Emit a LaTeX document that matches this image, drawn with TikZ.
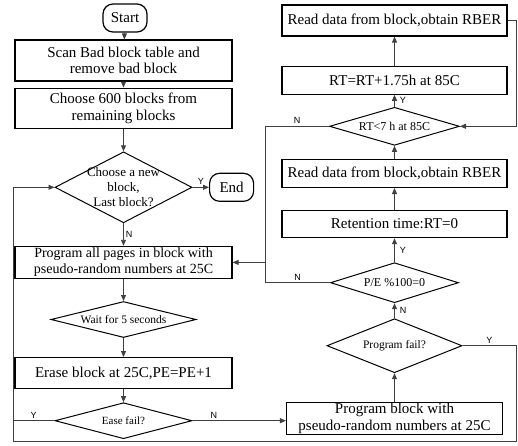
\documentclass[tikz,border=0pt]{standalone}
\usepackage{fontspec}
\setmainfont{Liberation Serif}
\newfontfamily\ynfont{Liberation Sans}
\usetikzlibrary{arrows.meta,positioning,shapes.geometric}

\begin{document}
\begin{tikzpicture}[
  x=1pt,y=-1pt,
  font=\fontsize{15}{16.5}\selectfont,
  box/.style={draw,line width=1.2pt,align=center,inner sep=1pt,minimum width=217pt},
  rbox/.style={box,minimum width=225pt},
  term/.style={draw,line width=1.2pt,rounded corners=10pt,minimum width=44pt,minimum height=28pt,inner sep=1pt},
  dec/.style={draw,diamond,line width=1pt,inner sep=0pt},
  dtxt/.style={align=center,font=\fontsize{12}{14}\selectfont},
  lab/.style={font=\ynfont\fontsize{9}{9}\selectfont,inner sep=2pt},
  line/.style={draw=black!75,line width=0.9pt},
  arr/.style={line,-{Triangle[length=6pt,width=5pt]}}
]
\useasboundingbox (0,0) rectangle (518,445);
% left column
\node[term] (start) at (125,18) {Start};
\node[box,minimum height=41pt] (scan) at (123.5,60.5) {Scan Bad block table and\\remove bad block};
\node[box,minimum height=40pt,below=6pt of scan] (ch600) {Choose 600 blocks from\\remaining blocks};
\node[dec,minimum width=137pt,minimum height=71pt,below=22.5pt of ch600,
  label={[dtxt,font=\fontsize{13}{15}\selectfont]center:Choose a new\\block,\\Last block?}] (pick) {};
\node[term,right=16.5pt of pick] (end) {End};
\node[box,minimum height=32pt,below=22.5pt of pick,font=\fontsize{14}{16}\selectfont] (progall) {Program all pages in block with\\pseudo-random numbers at 25C};
\node[dec,minimum width=145pt,minimum height=36pt,below=22pt of progall,
  label={[dtxt,font=\fontsize{11.5}{13}\selectfont]center:Wait for 5 seconds}] (wait) {};
\node[box,minimum height=31pt,below=19pt of wait] (erase) {Erase block at 25C,PE=PE+1};
\node[dec,minimum width=137pt,minimum height=36pt,below=13pt of erase,
  label={[dtxt,font=\fontsize{11}{13}\selectfont]center:Ease fail?}] (ease) {};
% right column
\node[rbox,minimum height=31pt] (readtop) at (394.5,20.5) {Read data from block,obtain RBER};
\node[rbox,minimum height=28pt,below=29pt of readtop] (rtadd) {RT=RT+1.75h at 85C};
\node[dec,minimum width=130pt,minimum height=38pt,below=12pt of rtadd,
  label={[dtxt]center:RT<7 h at 85C}] (rtlt) {};
\node[rbox,minimum height=28pt,below=13pt of rtlt] (readlow) {Read data from block,obtain RBER};
\node[rbox,minimum height=27pt,below=22pt of readlow] (retent) {Retention time:RT=0};
\node[dec,minimum width=128pt,minimum height=40pt,below=24pt of retent,
  label={[dtxt]center:P/E \%100=0}] (pe) {};
\node[dec,minimum width=135pt,minimum height=54pt,below=15pt of pe,
  label={[dtxt,font=\fontsize{11.5}{13}\selectfont]center:Program fail?}] (pfail) {};
\node[box,minimum width=216pt,minimum height=29pt,below=28.5pt of pfail] (progblk) {Program block with\\pseudo-random numbers at 25C};
% loop corners
\coordinate (lft) at (13,441);
\coordinate (rgt) at (516,441);
\coordinate (mid) at (265,259);
% connectors
\draw[arr] (start) -- (scan);
\draw[arr] (scan) -- (ch600);
\draw[arr] (ch600) -- (pick);
\draw[arr] (pick) -- node[lab,above]{Y} (end);
\draw[arr] (pick) -- node[lab,right]{N} (progall);
\draw[arr] (progall) -- (wait);
\draw[arr] (wait) -- (erase);
\draw[arr] (erase) -- (ease);
\draw[arr] (ease.east) -- node[lab,above,pos=0.23]{N} (ease.east -| progblk.west);
\draw[arr] (ease.west) -- node[lab,above]{Y} (ease.west -| lft) |- (pick.west);
\draw[line] (pfail.east) -- node[lab,above]{Y} (pfail.east -| rgt) -- (rgt) -- (lft) -- (ease.west -| lft);
\draw[arr] (progblk) -- (pfail);
\draw[arr] (pfail) -- node[lab,right,xshift=3pt]{N} (pe);
\draw[arr] (pe) -- node[lab,right,xshift=3pt]{Y} (retent);
\draw[arr] (retent) -- (readlow);
\draw[arr] (readlow) -- (rtlt);
\draw[arr] (rtlt) -- node[lab,right,xshift=3pt]{Y} (rtadd);
\draw[arr] (rtadd) -- (readtop);
\draw[arr] (readtop.east) -- (readtop.east -| rgt) |- (rtlt.east);
\draw[arr] (rtlt.west) -- node[lab,above]{N} (rtlt.west -| mid) |- (progall.east);
\draw[line] (pe.west) -- node[lab,above]{N} (pe.west -| mid) -- (mid);
\end{tikzpicture}
\end{document}
